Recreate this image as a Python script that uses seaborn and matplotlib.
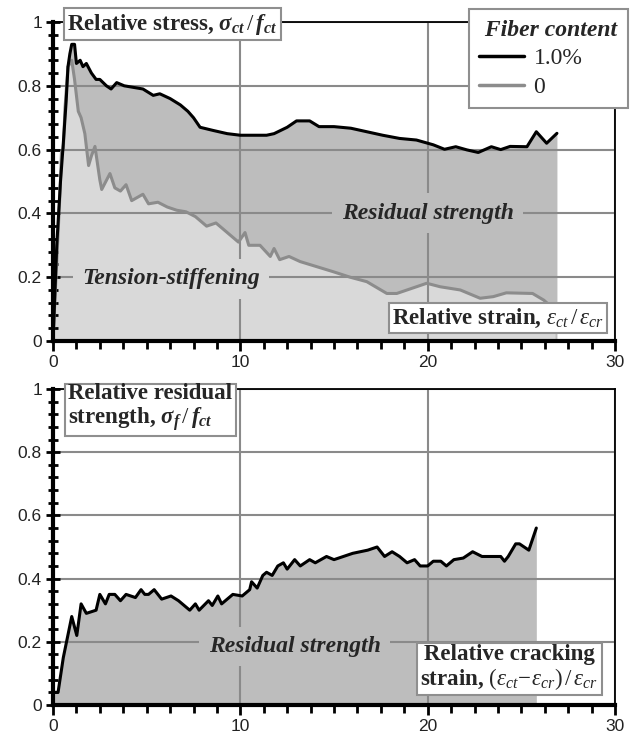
import matplotlib
matplotlib.use("Agg")
import matplotlib.pyplot as plt
from matplotlib.ticker import MultipleLocator
import seaborn as sns
import pandas as pd

# ---------------- data ----------------
fiber_x = [0, 0.2, 0.4, 0.55, 0.7, 0.8, 0.9, 1.0, 1.15, 1.25, 1.45, 1.6, 1.78, 2.05, 2.3,
           2.5, 2.85, 3.1, 3.4, 3.8, 4.3, 4.8, 5.35, 5.7, 6.25, 6.8, 7.2, 7.5, 7.85, 8.55,
           9.3, 10.0, 10.7, 11.4, 11.8, 12.5, 13.0, 13.7, 14.2, 15.0, 15.9, 16.75, 17.6, 18.5,
           19.4, 20.3, 20.9, 21.5, 22.1, 22.7, 23.4, 23.9, 24.4, 25.3, 25.8, 26.35, 26.9]
fiber_y = [0, 0.3, 0.5, 0.62, 0.75, 0.86, 0.9, 0.93, 0.93, 0.87, 0.88, 0.86, 0.87, 0.84, 0.82,
           0.82, 0.80, 0.79, 0.81, 0.80, 0.795, 0.79, 0.77, 0.775, 0.76, 0.74, 0.72, 0.70, 0.67, 0.66,
           0.65, 0.645, 0.645, 0.645, 0.65, 0.67, 0.69, 0.69, 0.672, 0.672, 0.667, 0.656, 0.645, 0.635,
           0.63, 0.615, 0.601, 0.609, 0.599, 0.591, 0.609, 0.60, 0.61, 0.609, 0.656, 0.62, 0.651]

plain_x = [0, 0.2, 0.37, 0.45, 0.55, 0.64, 0.8, 0.9, 1.0, 1.15, 1.35, 1.5, 1.7, 1.9, 2.05,
           2.24, 2.5, 2.6, 3.04, 3.3, 3.6, 3.9, 4.2, 4.8, 5.1, 5.6, 6.1, 6.6, 7.1, 7.6,
           8.2, 8.7, 9.3, 9.9, 10.25, 10.45, 11.05, 11.6, 11.8, 12.1, 12.6, 13.19, 14.97, 15.86,
           16.75, 17.82, 18.35, 19.95, 20.67, 21.74, 22.8, 23.5, 24.2, 25.6, 26.2, 26.8]
plain_y = [0, 0.25, 0.46, 0.59, 0.60, 0.73, 0.86, 0.87, 0.88, 0.82, 0.72, 0.70, 0.65, 0.55, 0.58,
           0.61, 0.505, 0.475, 0.525, 0.48, 0.47, 0.49, 0.44, 0.46, 0.43, 0.435, 0.42, 0.41, 0.405, 0.39,
           0.36, 0.37, 0.34, 0.31, 0.34, 0.30, 0.30, 0.265, 0.29, 0.255, 0.265, 0.249, 0.217, 0.20,
           0.186, 0.149, 0.149, 0.181, 0.17, 0.16, 0.134, 0.139, 0.151, 0.149, 0.128, 0.097]

resid_x = [0, 0.27, 0.55, 1.0, 1.27, 1.5, 1.78, 2.3, 2.5, 2.8, 3.0, 3.3, 3.6, 3.9, 4.4,
           4.7, 4.9, 5.1, 5.4, 5.8, 6.3, 6.7, 7.1, 7.3, 7.6, 7.8, 8.3, 8.5, 8.8, 9.0,
           9.6, 10.1, 10.5, 10.6, 10.9, 11.2, 11.4, 11.7, 12.0, 12.3, 12.5, 12.9, 13.2, 13.7, 14.0,
           14.6, 15.0, 16.0, 16.8, 17.3, 17.7, 18.1, 18.5, 18.9, 19.3, 19.6, 20.0, 20.3, 20.7, 21.0,
           21.4, 21.9, 22.4, 22.9, 23.9, 24.1, 24.3, 24.7, 24.9, 25.4, 25.8]
resid_y = [0.04, 0.04, 0.15, 0.28, 0.22, 0.32, 0.29, 0.30, 0.35, 0.32, 0.35, 0.35, 0.33, 0.35, 0.34,
           0.365, 0.35, 0.35, 0.365, 0.335, 0.345, 0.33, 0.31, 0.30, 0.32, 0.30, 0.33, 0.315, 0.345, 0.32,
           0.35, 0.345, 0.365, 0.39, 0.37, 0.41, 0.42, 0.41, 0.44, 0.45, 0.43, 0.46, 0.44, 0.46, 0.45,
           0.47, 0.46, 0.48, 0.49, 0.50, 0.47, 0.485, 0.47, 0.45, 0.46, 0.44, 0.44, 0.455, 0.455, 0.44,
           0.46, 0.465, 0.485, 0.47, 0.47, 0.455, 0.47, 0.51, 0.51, 0.49, 0.56]

series_labels = ["1.0%", "0"]
legend_title = "Fiber content"
x_ticks = [0, 10, 20, 30]
y_ticks = [0, 0.2, 0.4, 0.6, 0.8, 1]
y_ticklabels = ["0", "0.2", "0.4", "0.6", "0.8", "1"]

# ---------------- style ----------------
sns.set_style("white")
plt.rcParams["font.family"] = ["Liberation Sans", "DejaVu Sans"]
plt.rcParams["mathtext.fontset"] = "custom"
plt.rcParams["mathtext.rm"] = "Liberation Serif"
plt.rcParams["mathtext.it"] = "Liberation Serif:italic"
plt.rcParams["mathtext.bf"] = "Liberation Serif:bold"
plt.rcParams["mathtext.bfit"] = "Liberation Serif:italic:bold"

DARK = "#bdbdbd"
LIGHT = "#d9d9d9"
GRID = "#8a8a8a"
LGRAY = "#8c8c8c"
EDGE = "#8f8f8f"
SERIF = "Liberation Serif"
BOXFS = 16.5
ITFS = 17

W, H = 634, 734
fig = plt.figure(figsize=(W / 100, H / 100), dpi=100)
ax1 = fig.add_axes([53 / W, 1 - 341 / H, 562 / W, 319 / H])
ax2 = fig.add_axes([53 / W, 1 - 705 / H, 562 / W, 316 / H])


def style_axes(ax):
    ax.set_xlim(0, 30)
    ax.set_ylim(0, 1)
    ax.set_xticks(x_ticks)
    ax.set_yticks(y_ticks)
    ax.set_yticklabels(y_ticklabels)
    ax.xaxis.set_minor_locator(MultipleLocator(1.25))
    ax.yaxis.set_minor_locator(MultipleLocator(0.04))
    ax.grid(True, which="major", color=GRID, lw=1.5)
    ax.set_axisbelow(False)
    for s in ["left", "bottom"]:
        ax.spines[s].set_linewidth(3)
        ax.spines[s].set_color("black")
    for s in ["top", "right"]:
        ax.spines[s].set_linewidth(1.3)
        ax.spines[s].set_color("black")
    for s in ax.spines.values():
        s.set_zorder(6)
    ax.tick_params(axis="y", which="major", direction="inout", length=10, width=2,
                   labelsize=12.5, colors="black", labelcolor="#222222", pad=3)
    ax.tick_params(axis="y", which="minor", direction="inout", length=7, width=2, colors="black")
    ax.tick_params(axis="x", which="major", direction="out", length=7, width=2,
                   labelsize=12.5, colors="black", labelcolor="#222222", pad=3)
    ax.tick_params(axis="x", which="minor", direction="out", length=6, width=2, colors="black")
    ax.tick_params(left=True, bottom=True, top=False, right=False, which="both")
    ax.set_xlabel("")
    ax.set_ylabel("")


# ---------------- top panel ----------------
df_f = pd.DataFrame({"x": fiber_x, "y": fiber_y})
df_p = pd.DataFrame({"x": plain_x, "y": plain_y})
ax1.fill_between(fiber_x, 0, fiber_y, color=DARK, lw=0, zorder=1)
ax1.fill_between(plain_x, 0, plain_y, color=LIGHT, lw=0, zorder=1.1)
sns.lineplot(data=df_p, x="x", y="y", ax=ax1, color=LGRAY, lw=2.2, sort=False,
             estimator=None, zorder=3, label=series_labels[1], legend=False)
sns.lineplot(data=df_f, x="x", y="y", ax=ax1, color="black", lw=2.2, sort=False,
             estimator=None, zorder=3.1, label=series_labels[0], legend=False)
style_axes(ax1)

box = dict(boxstyle="square,pad=0.15", facecolor="white", edgecolor=EDGE, lw=1.5)
ax1.text(0.75, 0.993,
         r"Relative stress, $\mathbfit{\sigma}_{\mathbfit{ct}}\,/\,\mathbfit{f}_{\mathbfit{ct}}$",
         family=SERIF, fontweight="bold", fontsize=BOXFS, ha="left", va="center",
         bbox=box, zorder=8, clip_on=False)
ax1.text(23.75, 0.072,
         r"Relative strain, $\varepsilon_{ct}\,/\,\varepsilon_{cr}$",
         family=SERIF, fontweight="bold", fontsize=BOXFS, ha="center", va="center",
         bbox=box, zorder=8)
ax1.text(20.0, 0.40, "Residual strength", family=SERIF, fontweight="bold", style="italic",
         fontsize=ITFS, ha="center", va="center", zorder=7,
         bbox=dict(boxstyle="square,pad=0.4", facecolor=DARK, edgecolor="none"))
ax1.text(6.3, 0.195, "Tension-stiffening", family=SERIF, fontweight="bold", style="italic",
         fontsize=ITFS, ha="center", va="center", zorder=7,
         bbox=dict(boxstyle="square,pad=0.4", facecolor=LIGHT, edgecolor="none"))

handles, labels = ax1.get_legend_handles_labels()
order = [labels.index(series_labels[0]), labels.index(series_labels[1])]
leg = fig.legend([handles[i] for i in order], [labels[i] for i in order],
                 loc="upper right", bbox_to_anchor=(628 / W, 1 - 9 / H),
                 bbox_transform=fig.transFigure, frameon=True, fancybox=False,
                 framealpha=1, edgecolor=EDGE, title=" " + legend_title,
                 prop={"family": SERIF, "size": 17}, handlelength=1.9,
                 handletextpad=0.4, borderpad=0.45, labelspacing=0.3,
                 borderaxespad=0)
leg.get_title().set_fontproperties({"family": SERIF, "size": 17, "weight": "bold",
                                    "style": "italic"})
leg._legend_box.align = "left"
leg.get_frame().set_linewidth(1.5)
for ln in leg.get_lines():
    ln.set_linewidth(2.5)
leg.set_zorder(10)

# ---------------- bottom panel ----------------
df_r = pd.DataFrame({"x": resid_x, "y": resid_y})
ax2.fill_between(resid_x, 0, resid_y, color=DARK, lw=0, zorder=1)
sns.lineplot(data=df_r, x="x", y="y", ax=ax2, color="black", lw=2.2, sort=False,
             estimator=None, zorder=3, legend=False)
style_axes(ax2)

ax2.text(0.8, 0.94,
         "Relative residual\n" + r"strength, $\mathbfit{\sigma}_{\mathbfit{f}}\,/\,\mathbfit{f}_{\mathbfit{ct}}$",
         family=SERIF, fontweight="bold", fontsize=BOXFS, ha="left", va="center",
         multialignment="left", bbox=box, zorder=8, clip_on=False, linespacing=1.05)
ax2.text(24.35, 0.117,
         "Relative cracking\n" + r"strain, $(\varepsilon_{ct}\!-\!\varepsilon_{cr})\,/\,\varepsilon_{cr}$",
         family=SERIF, fontweight="bold", fontsize=BOXFS, ha="center", va="center",
         multialignment="center", bbox=box, zorder=8, linespacing=1.05)
ax2.text(12.9, 0.185, "Residual strength", family=SERIF, fontweight="bold", style="italic",
         fontsize=ITFS, ha="center", va="center", zorder=7,
         bbox=dict(boxstyle="square,pad=0.4", facecolor=DARK, edgecolor="none"))

fig.savefig("out.png", dpi=100)
